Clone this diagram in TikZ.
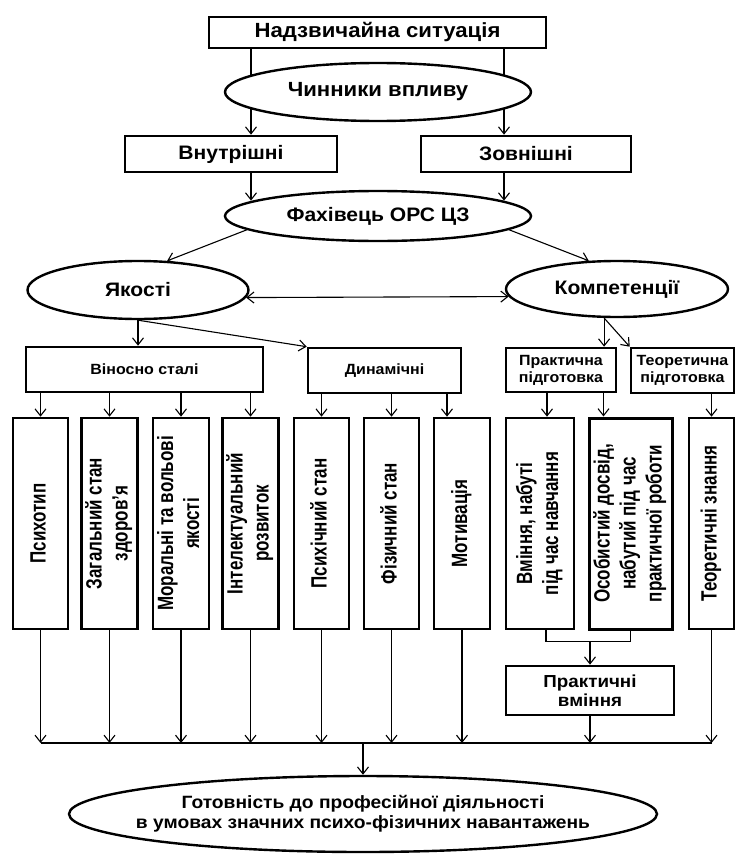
\documentclass[tikz,border=0pt]{standalone}
\usepackage{graphicx}
\usepackage{fontspec}
\setmainfont[FakeStretch=1.08]{Liberation Sans}
\newfontfamily\rotfont{Liberation Sans}
\usetikzlibrary{shapes.geometric, arrows.meta, positioning}

\tikzset{
  box/.style={rectangle, draw, line width=2.6pt, inner sep=2pt, align=center},
  oval/.style={ellipse, draw, line width=2.4pt, fill=white, inner sep=0pt, align=center},
  vbox/.style={box, minimum height=211pt},
  bigtext/.style={font=\bfseries\fontsize{19.5}{22}\selectfont},
  midtext/.style={font=\bfseries\fontsize{14.8}{17}\selectfont},
  link/.style={->, line width=1.1pt},
}
\newcommand{\vtext}[1]{\rotatebox{90}{\scalebox{1}[1.3]{\rotfont\bfseries\fontsize{17}{20}\selectfont\begin{tabular}{@{}c@{}}#1\end{tabular}}}}

\begin{document}
\begin{tikzpicture}[x=1pt, y=-1pt, >={Straight Barb[length=7pt,width=11pt]}]
  \useasboundingbox (0,0) rectangle (737,856);

  % top part
  \node (situation) [box, bigtext, font=\bfseries\fontsize{20.5}{22}\selectfont, minimum width=337pt, minimum height=31pt] at (377.5,32.5) {Надзвичайна ситуація};
  \node (inner) [box, bigtext, minimum width=212pt, minimum height=36pt] at (231,154) {Внутрішні};
  \node (outer) [box, bigtext, minimum width=210pt, minimum height=36pt] at (526,154) {Зовнішні};
  \coordinate (lx) at (251,0);
  \coordinate (rx) at (504,0);
  \draw [link] (lx |- situation.south) -- (lx |- inner.north);
  \draw [link] (rx |- situation.south) -- (rx |- outer.north);
  \node (factors) [oval, font=\bfseries\fontsize{20.5}{22}\selectfont, minimum width=306pt, minimum height=58pt] at (378,92) {Чинники впливу};

  \node (expert) [oval, bigtext, minimum width=306pt, minimum height=50pt] at (378,216) {Фахівець ОРС ЦЗ};
  \draw [link] (lx |- inner.south) -- (lx |- expert.173);
  \draw [link] (rx |- outer.south) -- (rx |- expert.7);

  \node (quality) [oval, bigtext, minimum width=221pt, minimum height=58pt] at (138,290) {Якості};
  \node (compet) [oval, bigtext, minimum width=222pt, minimum height=56pt] at (617,289) {Компетенції};
  \draw [link] (expert.186) -- (quality.45);
  \draw [link] (expert.-6) -- (compet.135);
  \draw [<->, line width=1.1pt] (quality.-4) -- (compet.184);

  % second level
  \node (stable) [box, midtext, minimum width=237pt, minimum height=45pt] at (144.5,369.5) {Віносно сталі};
  \node (dyn) [box, midtext, minimum width=153pt, minimum height=45pt] at (384.5,370.5) {Динамічні};
  \node (prac) [box, midtext, minimum width=110pt, minimum height=44pt] at (561,370) {Практична\\підготовка};
  \node (theor) [box, midtext, minimum width=103pt, minimum height=45pt] at (682.5,370.5) {Теоретична\\підготовка};
  \draw [link] (quality.south) -- (quality.south |- stable.north);
  \draw [link] (quality.south) -- (dyn.north west);
  \draw [link] (compet.246) -- (compet.246 |- prac.north);
  \draw [link] (compet.246) -- (theor.north west);

  % vertical boxes
  \node (psychotype) [vbox, minimum width=55pt] at (40.5,523.5) {\vtext{Психотип}};
  \node (health) [vbox, minimum width=55pt] at (109.5,523.5) {\vtext{Загальний стан\\здоров’я}};
  \node (moral) [vbox, minimum width=56pt] at (181,523.5) {\vtext{Моральні та вольові\\якості}};
  \node (intellect) [vbox, minimum width=55pt] at (250.5,523.5) {\vtext{Інтелектуальний\\розвиток}};
  \node (mental) [vbox, minimum width=55pt] at (321.5,523.5) {\vtext{Психічний стан}};
  \node (physical) [vbox, minimum width=55pt] at (391.5,523.5) {\vtext{Фізичний стан}};
  \node (motivation) [vbox, minimum width=56pt] at (462,523.5) {\vtext{Мотивація}};
  \node (skills) [vbox, minimum width=68pt] at (540,523.5) {\vtext{Вміння, набуті\\під час навчання}};
  \node (experience) [vbox, line width=3pt, minimum width=83pt] at (630.5,523.5) {\vtext{Особистий досвід,\\набутий під час\\практичної роботи}};
  \node (knowledge) [vbox, minimum width=45pt] at (711.5,523.5) {\vtext{Теоретичні знання}};

  \draw [link] (psychotype.north |- stable.south) -- (psychotype.north);
  \draw [link] (health.north |- stable.south) -- (health.north);
  \draw [link] (moral.north |- stable.south) -- (moral.north);
  \draw [link] (intellect.north |- stable.south) -- (intellect.north);
  \draw [link] (mental.north |- dyn.south) -- (mental.north);
  \draw [link] (physical.north |- dyn.south) -- (physical.north);
  \coordinate (m7) at ([xshift=-15pt]motivation.north);
  \draw [link] (m7 |- dyn.south) -- (m7);
  \coordinate (s8) at ([xshift=7pt]skills.north);
  \coordinate (s9) at ([xshift=-27pt]experience.north);
  \draw [link] (s8 |- prac.south) -- (s8);
  \draw [link] (s9 |- prac.south) -- (s9);
  \draw [link] (knowledge.north |- theor.south) -- (knowledge.north);

  % practical skills
  \node (practice) [box, font=\bfseries\fontsize{17.4}{19}\selectfont, minimum width=168pt, minimum height=49pt] at (590,690.5) {Практичні\\вміння};
  \coordinate (joint) at ([yshift=-11pt]skills.south);
  \draw [line width=1.1pt] ([xshift=6pt]skills.south) -- ([xshift=6pt]joint) -| (experience.south);
  \draw [link] (practice.north |- joint) -- (practice.north);

  % collecting line
  \coordinate (bus) at (0,743);
  \draw [line width=1.1pt] (psychotype.south |- bus) -- (knowledge.south |- bus);
  \draw [link] (psychotype.south) -- (psychotype.south |- bus);
  \draw [link] (health.south) -- (health.south |- bus);
  \draw [link] (moral.south) -- (moral.south |- bus);
  \draw [link] (intellect.south) -- (intellect.south |- bus);
  \draw [link] (mental.south) -- (mental.south |- bus);
  \draw [link] (physical.south) -- (physical.south |- bus);
  \draw [link] (motivation.south) -- (motivation.south |- bus);
  \draw [link] (practice.south) -- (practice.south |- bus);
  \draw [link] (knowledge.south) -- (knowledge.south |- bus);

  \node (ready) [oval, font=\bfseries\fontsize{17.8}{20}\selectfont, minimum width=588pt, minimum height=76pt] at (363,814)
    {\makebox[300pt]{\begin{tabular}{@{}c@{}}Готовність до професійної діяльності\\в умовах значних психо-фізичних навантажень\end{tabular}}};
  \draw [link] (ready.north |- bus) -- (ready.north);
\end{tikzpicture}
\end{document}
